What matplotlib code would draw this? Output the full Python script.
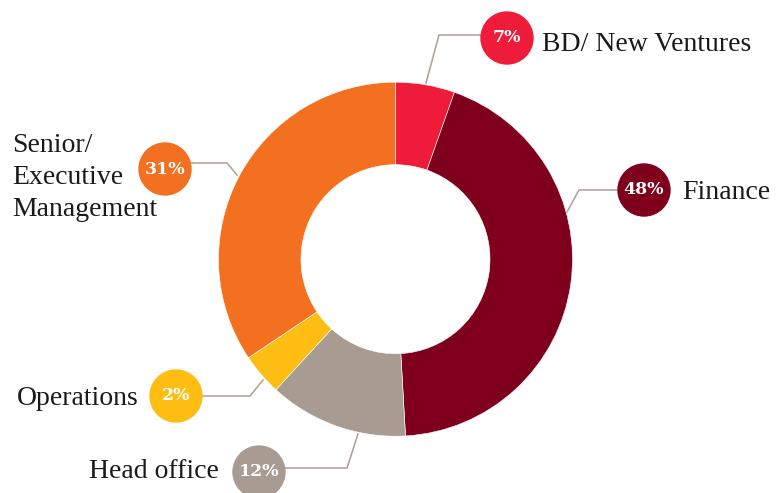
import matplotlib
matplotlib.use("Agg")
import matplotlib.pyplot as plt
from matplotlib.patches import Circle

# slice sizes as read from the ring, and the printed percentages
categories = ["BD/ New Ventures", "Finance", "Head office", "Operations", "Senior/\nExecutive\nManagement"]
shares = [5.4, 43.7, 12.7, 3.8, 34.4]
pct_labels = ["7%", "48%", "12%", "2%", "31%"]
colors = ["#EE1C3A", "#7F001C", "#A89C92", "#FDBD13", "#F37021"]

H = 493
fig = plt.figure(figsize=(7.79, 4.93), dpi=100)
ax = fig.add_axes([0, 0, 1, 1])

# donut, clockwise from 12 o'clock
cx, cy, r = 395.5, H - 259.2, 177
ax.pie(shares, colors=colors, startangle=90, counterclock=False,
       center=(cx, cy), radius=r,
       wedgeprops=dict(width=r * 0.466, edgecolor="white", linewidth=0.4))

# badge centre, leader polyline (image pixels), label baseline / alignment
badges = [(507, 38), (644, 190), (259, 472), (176, 396), (165, 169)]
leaders = [
    [(426, 83), (439, 35), (484, 35)],
    [(567, 212), (579, 190), (620, 190)],
    [(358, 434), (347, 468), (284, 468)],
    [(263, 380), (250, 396), (200, 396)],
    [(237, 175), (227, 163), (190, 163)],
]
texts = [(542, 51, "left"), (682, 199, "left"), (219, 478, "right"),
         (139, 405, "right"), (12, 152, "left")]
line_col = "#ABA097"
line_gap = 32

for i in range(len(categories)):
    pts = leaders[i]
    ax.plot([p[0] for p in pts], [H - p[1] for p in pts], color=line_col,
            lw=1.1, zorder=2, solid_joinstyle="miter")
    bx, by = badges[i]
    ax.add_patch(Circle((bx, H - by), 26, color=colors[i], zorder=3))
    ax.text(bx, H - by, pct_labels[i], color="white", ha="center", va="center",
            fontsize=12.5, fontweight="bold", family="DejaVu Serif", zorder=4)
    tx, ty, ha = texts[i]
    for k, line in enumerate(categories[i].split("\n")):
        ax.text(tx, H - ty - k * line_gap, line, ha=ha, va="baseline",
                color="#1a1a1a", fontsize=20, family="Liberation Serif")

ax.set_xlim(0, 779)
ax.set_ylim(0, H)
ax.set_aspect("equal")
ax.axis("off")

fig.savefig("out.png", dpi=100)
